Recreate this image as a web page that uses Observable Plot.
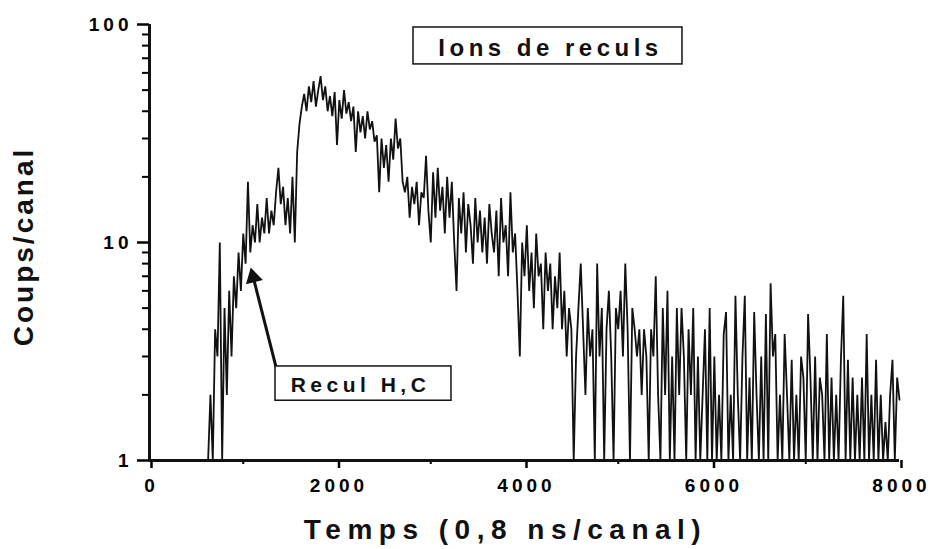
<!DOCTYPE html>
<html><head><meta charset="utf-8">
<script src="https://cdn.jsdelivr.net/npm/d3@7"></script>
<script src="https://cdn.jsdelivr.net/npm/@observablehq/plot@0.6"></script>
<style>
body{margin:0;background:#fff;}
svg text{font-family:"Liberation Sans",Arial,sans-serif;font-weight:bold;}
g[aria-label="x-axis tick label"] text, g[aria-label="y-axis tick label"] text{letter-spacing:4px;}
</style></head><body><div id="chart"></div>
<script>
// channel step between read-off samples
const step = 25;
// first channel of each segment
const segmentStarts = [600, 1650, 2500, 4000, 5000, 6000, 7000];
// counts per channel
const countsA = [1,1,2,1,4,3,10,1,5,2, 6,3,7,5,9,6,11,8,19,9, 12,10,15,10,13,11,16,11,14,12, 17,22,15,18,12,16,11,20,10,26, 35,42];
const countsB = [48,40,52,44,55,42,50,58,45, 52,40,47,38,49,28,45,37,50,39,44, 36,42,26,40,32,38,30,40,33,36,29, 31,17,30];
const countsC = [22,28,19,30,24,37,27,30, 19,17,20,13,18,15,19,12,17, 16,25,14,10,21,13,22,14,18,11,20, 13,19,10,6,16,11,17,9,15,12,8,16,10,14, 9,13,8,15,11,9,14,7,16,10,12,7,17,9, 11,6,3,10];
const countsD = [7,12,6,9,5,11,7,8,4,9, 6,8,4,7,5,9,4,6,3,5,4,1,3,5, 8,4,2,5,3, 4,1,8,3,5,1,4,6,3,1,5];
const countsE = [4,6,3,8,4,1,5, 4,3,4,2,4,3,1,4,3,7,2,1, 5,2,6,1,3,1,5,2, 5,3,1,4,2,5,1,3,1,2,4,1,5];
const countsF = [1,3,1,2,1,3.8,4.8,1,2,1, 5.7,2,1,3,5.7,1,2.4,1,4.8,2, 1,3,1,4.7,1,6.5,3,3.8,1,2, 1,3.8,2,1,2.9,1,2,1,3,2.4];
const countsG = [1,4.7,2.4,1,3,1,2.4,2,1,3.8, 1,2.4,1,2,1,2.9,5.7,1,2.9,1, 2.4,1,2,1,2.4,1,3.8,1,2,1, 2.9,1,2,1,1.5,1,2,2.9,1,2.4, 1.9];
const segments = [countsA, countsB, countsC, countsD, countsE, countsF, countsG];

// axis ticks
const xTicks = [0, 2000, 4000, 6000, 8000];
const xMinor = [1000, 3000, 5000, 7000];
const yTicks = [1, 10, 100];
const yMinor = [2,3,4,5,6,7,8,9,20,30,40,50,60,70,80,90];

const xLabel = "Temps (0,8 ns/canal)";
const yLabel = "Coups/canal";

// annotations (data coordinates)
const boxes = [
  {label: "Ions de reculs", x1: 2816, x2: 5685, y1: 65.6, y2: 96.9, fs: 24, dx: 2.5, dy: 2},
  {label: "Recul H,C", x1: 1344, x2: 3221, y1: 1.88, y2: 2.70, fs: 21, dx: -3, dy: 2}
];
const arrows = [{x1: 1365, y1: 2.53, x2: 1088, y2: 7.44}];

const data = segments.flatMap((c, k) => c.map((v, i) => ({ch: segmentStarts[k] + i * step, v})));
const boxCenters = boxes.map(b => ({...b, cx: (b.x1 + b.x2) / 2, cy: Math.sqrt(b.y1 * b.y2)}));

const chart = Plot.plot({
  width: 930, height: 549,
  marginLeft: 149, marginRight: 31, marginTop: 24, marginBottom: 89,
  x: {domain: [0, 8000], label: null},
  y: {type: "log", domain: [1, 100], label: null},
  marks: [
    Plot.axisY(yMinor, {tickSize: 7, tickFormat: () => "", strokeWidth: 2, label: null}),
    Plot.axisY(yTicks, {tickSize: 12, tickPadding: 5, fontSize: 19, strokeWidth: 2.5, tickFormat: d => String(d), label: null}),
    Plot.axisX(xMinor, {tickSize: 4, tickFormat: () => "", strokeWidth: 2, label: null}),
    Plot.axisX(xTicks, {tickSize: 8, tickPadding: 10, fontSize: 19, strokeWidth: 2.5, tickFormat: d => String(d), label: null, dx: 2}),
    Plot.line(data, {x: "ch", y: "v", stroke: "#111", strokeWidth: 1.8, strokeLinejoin: "miter"}),
    Plot.ruleX([0], {strokeWidth: 3, stroke: "#111"}),
    Plot.ruleY([1], {strokeWidth: 3, stroke: "#111"}),
    Plot.link(arrows, {x1: "x1", y1: "y1", x2: "x2", y2: "y2", stroke: "#111", strokeWidth: 3}),
    Plot.dot(arrows, {x: "x2", y: "y2", symbol: "triangle", r: 5.5, fill: "#111", stroke: "#111", rotate: -14, dx: 1.7, dy: 6.8}),
    Plot.rect(boxes, {x1: "x1", x2: "x2", y1: "y1", y2: "y2", fill: "white", stroke: "#111", strokeWidth: 1.5}),
    ...boxCenters.map(b => Plot.text([b], {x: "cx", y: "cy", text: "label", fontSize: b.fs, dx: b.dx, dy: b.dy, fill: "#111"})),
    Plot.text([yLabel], {frameAnchor: "left", textAnchor: "middle", lineAnchor: "middle", rotate: -90, dx: -125, dy: 4, fontSize: 28, fill: "#111"}),
    Plot.text([xLabel], {frameAnchor: "bottom", textAnchor: "middle", lineAnchor: "middle", dx: -19, dy: 70, fontSize: 28, fill: "#111"})
  ]
});
document.getElementById("chart").append(chart);
// apply letter spacing to the annotation and axis-title texts
const spacing = new Map([[yLabel, "3px"], [xLabel, "6.5px"], [boxes[0].label, "4.5px"], [boxes[1].label, "4.5px"]]);
d3.select(chart).selectAll("text").each(function() {
  const s = spacing.get(this.textContent);
  if (s) this.style.letterSpacing = s;
});
</script></body></html>
